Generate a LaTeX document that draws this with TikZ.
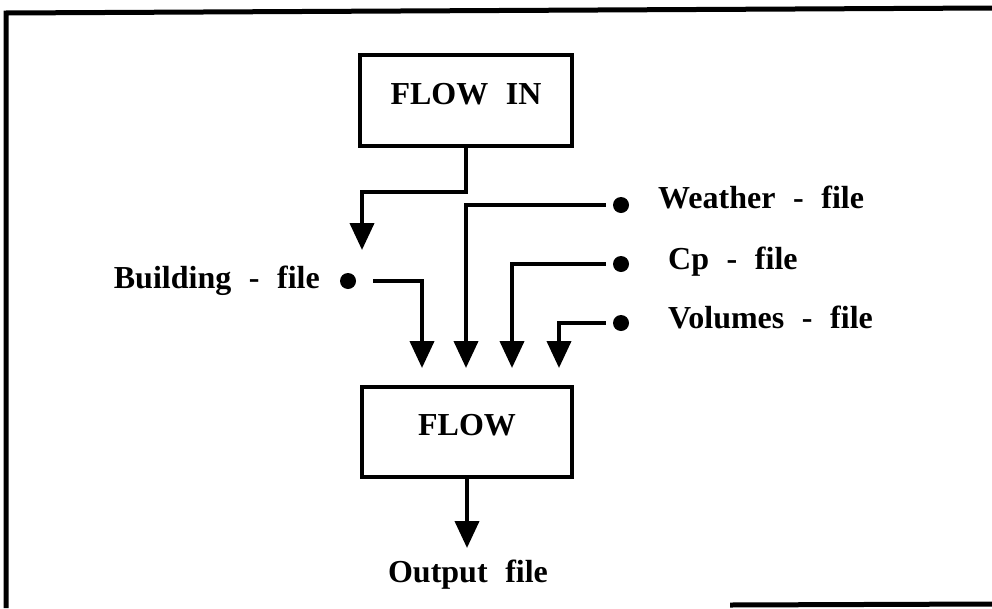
\documentclass[tikz,border=0pt]{standalone}
\usepackage{fontspec}
\setmainfont{Liberation Serif}
\usetikzlibrary{arrows.meta}
\newcommand{\wgap}{\hspace{0.55em}}
\begin{document}
\begin{tikzpicture}[x=1pt,y=-1pt,
  every node/.style={font=\fontsize{32}{38}\selectfont\bfseries},
  box/.style={draw,line width=3.5pt,minimum width=212pt,minimum height=91pt,inner sep=0pt,text depth=14pt},
  dot/.style={circle,fill=black,minimum size=16pt,inner sep=0pt},
  conn/.style={line width=4pt,-{Triangle[width=24pt,length=27pt]}},
  frame/.style={line width=5pt}]
\useasboundingbox (0,0) rectangle (992,608);
% frame
\draw[frame] (992,8) -- (6,13) -- (6,608);
\draw[frame] (730,605) -- (992,604);
% boxes
\node[box] (flowin) at (466,100.5) {FLOW\wgap IN};
\node[box,minimum width=210pt,minimum height=90pt] (flow) at (467,432) {FLOW};
% dots
\node[dot] (bdot) at (348,281) {};
\node[dot] (wdot) at (621,205) {};
\node[dot] (cdot) at (621,264) {};
\node[dot] (vdot) at (621,323) {};
% labels
\node[anchor=base east,inner sep=0pt] (blab) at (320,288) {Building\wgap-\wgap file};
\node[anchor=base west,inner sep=0pt] (wlab) at (658,208) {Weather\wgap-\wgap file};
\node[anchor=base west,inner sep=0pt] (clab) at (668,269) {Cp\wgap-\wgap file};
\node[anchor=base west,inner sep=0pt] (vlab) at (668,328) {Volumes\wgap-\wgap file};
\node[anchor=base,inner sep=0pt] (olab) at (468,582) {Output\wgap file};
% arrow end points
\coordinate (bin) at (362,250);
\coordinate (t1) at (422,368);
\coordinate (t2) at (466,368);
\coordinate (t3) at (512,368);
\coordinate (t4) at (559,368);
\coordinate (tout) at (467,548);
% connectors
\draw[conn] (flowin.south) -- ++(0,44) -| (bin);
\draw[conn] ([xshift=17pt]bdot.east) -| (t1);
\draw[conn] ([xshift=-7pt]wdot.west) -| (t2);
\draw[conn] ([xshift=-7pt]cdot.west) -| (t3);
\draw[conn] ([xshift=-7pt]vdot.west) -| (t4);
\draw[conn] (flow.south) -- (tout);
\end{tikzpicture}
\end{document}
